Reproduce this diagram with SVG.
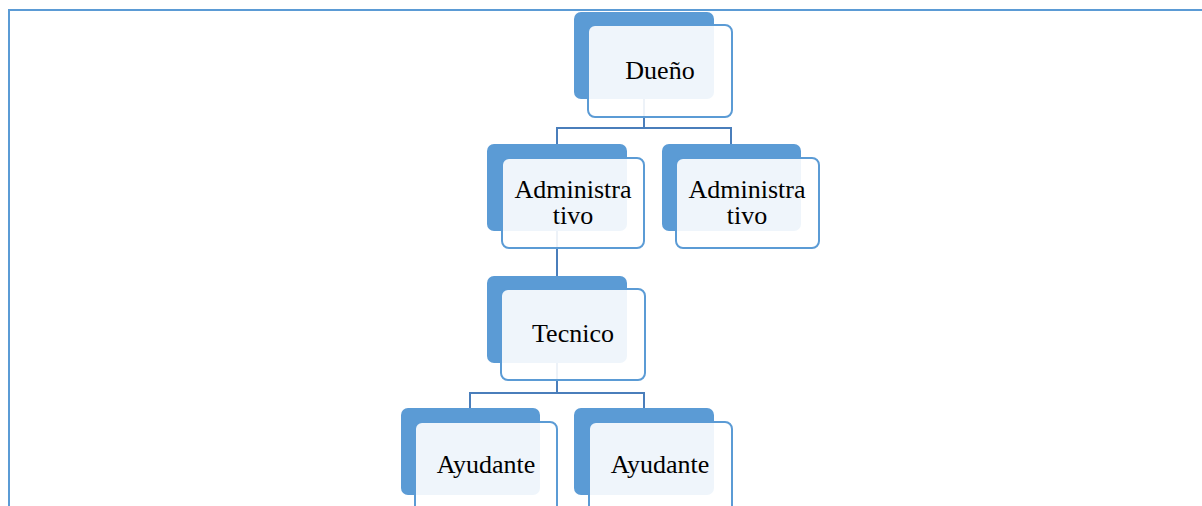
<svg xmlns="http://www.w3.org/2000/svg" width="1202" height="506" viewBox="0 0 1202 506">
<style>
.back{fill:#5b9bd5}
.front{fill:#ffffff;fill-opacity:0.9;stroke:#5b9bd5;stroke-width:2}
.conn{fill:none;stroke:#4a7ebb;stroke-width:2}
.lbl{font-family:"Liberation Serif","Times New Roman",serif;font-size:26px;fill:#000;text-anchor:middle}
</style>
<rect width="1202" height="506" fill="#ffffff"/>
<path d="M9,506 V10 H1210" fill="none" stroke="#5b9bd5" stroke-width="2"/>
<g id="connectors">
<path class="conn" d="M644,99 V128 M557,144 V128 H731 V144"/>
<path class="conn" d="M557,231 V276"/>
<path class="conn" d="M557,363 V393 M470,408 V393 H644 V408"/>
</g>
<g id="node-dueno">
<rect class="back" x="574" y="12" width="140" height="87" rx="7"/>
<rect class="front" x="588" y="25" width="144" height="92" rx="7"/>
<text class="lbl" x="660" y="79">Dueño</text>
</g>
<g id="node-admin1">
<rect class="back" x="487" y="144" width="140" height="87" rx="7"/>
<rect class="front" x="502" y="158" width="142" height="90" rx="7"/>
<text class="lbl" x="573" y="198">Administra</text>
<text class="lbl" x="573" y="224">tivo</text>
</g>
<g id="node-admin2">
<rect class="back" x="662" y="144" width="139" height="87" rx="7"/>
<rect class="front" x="676" y="158" width="143" height="90" rx="7"/>
<text class="lbl" x="747" y="198">Administra</text>
<text class="lbl" x="747" y="224">tivo</text>
</g>
<g id="node-tecnico">
<rect class="back" x="487" y="276" width="140" height="87" rx="7"/>
<rect class="front" x="501" y="289" width="144" height="91" rx="7"/>
<text class="lbl" x="573" y="342">Tecnico</text>
</g>
<g id="node-ayudante1">
<rect class="back" x="401" y="408" width="139" height="87" rx="7"/>
<rect class="front" x="415" y="422" width="142" height="91" rx="7"/>
<text class="lbl" x="486" y="473">Ayudante</text>
</g>
<g id="node-ayudante2">
<rect class="back" x="574" y="408" width="140" height="87" rx="7"/>
<rect class="front" x="589" y="422" width="143" height="91" rx="7"/>
<text class="lbl" x="660" y="473">Ayudante</text>
</g>
</svg>
